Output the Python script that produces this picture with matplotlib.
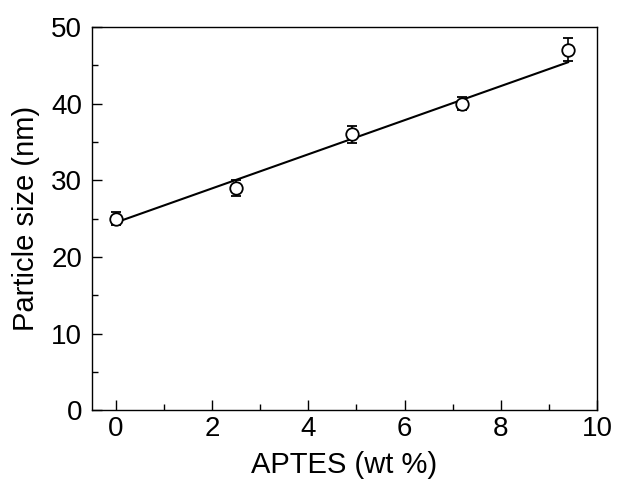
import matplotlib
matplotlib.use("Agg")
import matplotlib.pyplot as plt
from matplotlib.ticker import MultipleLocator

plt.rcParams['font.family'] = ['Liberation Sans', 'DejaVu Sans']

# Data
aptes = [0, 2.5, 4.9, 7.2, 9.4]
size_nm = [25, 29, 36, 40, 47]
size_err = [0.8, 1.0, 1.1, 0.8, 1.5]

# linear fit line end points
fit_x = [0, 9.4]
fit_y = [24.5, 45.4]

fig = plt.figure(figsize=(6.33, 4.82), dpi=100)
ax = fig.add_axes([0.1453, 0.149, 0.7977, 0.795])

ax.plot(fit_x, fit_y, color='black', lw=1.5, zorder=2)
ax.errorbar(aptes, size_nm, yerr=size_err, fmt='o', mfc='white', mec='black',
            ms=9, mew=1.3, ecolor='black', elinewidth=1.2, capsize=3.5,
            capthick=1.2, zorder=3)

ax.set_xlim(-0.5, 10)
ax.set_ylim(0, 50)
ax.xaxis.set_major_locator(MultipleLocator(2))
ax.xaxis.set_minor_locator(MultipleLocator(1))
ax.yaxis.set_major_locator(MultipleLocator(10))
ax.yaxis.set_minor_locator(MultipleLocator(5))
ax.tick_params(which='both', direction='in', top=False, right=False, labelsize=20, width=1)
ax.tick_params(which='major', length=7)
ax.tick_params(axis='y', which='major', pad=7)
ax.tick_params(axis='x', which='major', pad=4)
ax.tick_params(which='minor', length=4)
for s in ax.spines.values():
    s.set_linewidth(1)

ax.set_xlabel('APTES (wt %)', fontsize=21, labelpad=7)
ax.set_ylabel('Particle size (nm)', fontsize=21, labelpad=8)

fig.savefig('out.png', dpi=100)
